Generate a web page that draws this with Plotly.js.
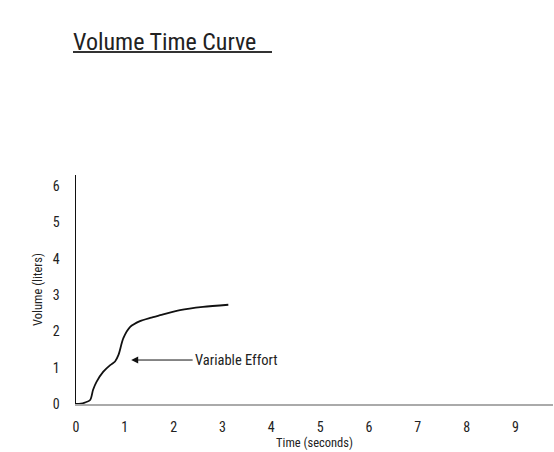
<!DOCTYPE html>
<html>
<head>
<meta charset="utf-8">
<script src="https://cdn.plot.ly/plotly-3.0.1.min.js"></script>
<style>html,body{margin:0;padding:0;background:#fff;}#chart{width:554px;height:452px;}</style>
</head>
<body>
<div id="chart"></div>
<script>
const timeSeconds = [0, 0.10, 0.18, 0.29, 0.35, 0.42, 0.56, 0.70, 0.80, 0.87, 0.97, 1.11, 1.31, 1.52, 1.75, 2.13, 2.60, 3.12];
const volumeLiters = [0, 0.01, 0.04, 0.11, 0.39, 0.61, 0.89, 1.07, 1.17, 1.35, 1.81, 2.12, 2.28, 2.37, 2.45, 2.58, 2.67, 2.73];
const xTicks = [0,1,2,3,4,5,6,7,8,9];
const yTicks = [0,1,2,3,4,5,6];
const chartTitle = "Volume Time Curve";
const noteText = "Variable Effort";
const notePoint = {x: 1.13, y: 1.21};
const noteTail = {x: 2.42, y: 1.21};

const FONT = "Liberation Sans Narrow, Roboto Condensed, Arial Narrow, Roboto, sans-serif";

const trace = {
  x: timeSeconds, y: volumeLiters, type: 'scatter', mode: 'lines',
  line: {color: '#111', width: 1.8, shape: 'spline', smoothing: 0.8},
  hoverinfo: 'skip'
};

const layout = {
  width: 554, height: 452,
  margin: {l: 76, r: 1, t: 175, b: 48},
  paper_bgcolor: '#fff', plot_bgcolor: '#fff',
  showlegend: false,
  font: {family: FONT, color: '#222', size: 12},
  title: {text: chartTitle, x: 73/554, xanchor: 'left', xref: 'container',
          y: 1 - 42/452, yanchor: 'middle', yref: 'container',
          font: {family: FONT, size: 24, color: '#222'}},
  xaxis: {range: [0, 9.77], tickvals: xTicks, ticktext: xTicks.map(String),
          showgrid: false, zeroline: false, showline: true, linecolor: '#aaa', linewidth: 2,
          ticks: '', ticklabelstandoff: 9, fixedrange: true,
          tickfont: {family: FONT, size: 14, color: '#222'},
          title: {text: 'Time (seconds)', standoff: 4, font: {family: FONT, size: 12.5, color: '#222'}}},
  yaxis: {range: [0, 6.3], tickvals: yTicks, ticktext: yTicks.map(String),
          showgrid: false, zeroline: false, showline: true, linecolor: '#111', linewidth: 1.5,
          ticks: '', ticklabelstandoff: 12, fixedrange: true,
          tickfont: {family: FONT, size: 14, color: '#222'},
          title: {text: 'Volume (liters)', standoff: 7, font: {family: FONT, size: 12.5, color: '#222'}}},
  shapes: [
    {type: 'line', xref: 'paper', yref: 'paper', x0: -3/477, x1: 196/477,
     y0: (404-52)/229, y1: (404-52)/229, line: {color: '#333', width: 2}}
  ],
  annotations: [
    {x: notePoint.x, y: notePoint.y, ax: noteTail.x, ay: noteTail.y, axref: 'x', ayref: 'y',
     xref: 'x', yref: 'y', text: '', showarrow: true, arrowhead: 2, arrowsize: 1.4, arrowwidth: 1,
     arrowcolor: '#111', standoff: 0},
    {x: noteTail.x, y: noteTail.y, xref: 'x', yref: 'y', text: noteText, showarrow: false,
     xanchor: 'left', yanchor: 'middle', xshift: -1, font: {family: FONT, size: 14.5, color: '#222'}}
  ]
};

Plotly.newPlot('chart', [trace], layout, {displayModeBar: false, staticPlot: true});
</script>
</body>
</html>
